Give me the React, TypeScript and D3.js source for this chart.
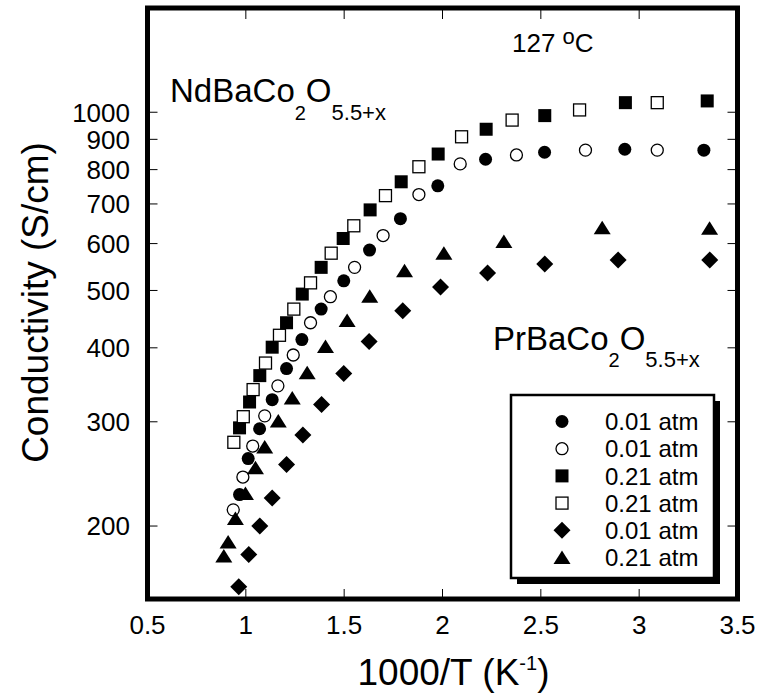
import React from 'react';
import * as d3 from 'd3';

// ---------- data (x = 1000/T in K^-1, y = conductivity in S/cm) ----------
const xTickValues = [0.5, 1, 1.5, 2, 2.5, 3, 3.5];
const xTickLabels = ['0.5', '1', '1.5', '2', '2.5', '3', '3.5'];
const yTickValues = [200, 300, 400, 500, 600, 700, 800, 900, 1000];
const yTickLabels = ['200', '300', '400', '500', '600', '700', '800', '900', '1000'];

// filled circles, 0.01 atm
const filledCircleX = [0.968, 1.012, 1.07, 1.134, 1.207, 1.285, 1.383, 1.498, 1.629, 1.786, 1.976, 2.219, 2.519, 2.927, 3.329];
const filledCircleY = [226, 260, 292, 327, 369, 413, 465, 519, 585, 661, 751, 833, 856, 866, 863];

// open circles, 0.01 atm
const openCircleX = [0.936, 0.985, 1.035, 1.096, 1.163, 1.241, 1.329, 1.43, 1.553, 1.698, 1.88, 2.09, 2.376, 2.727, 3.092];
const openCircleY = [213, 242, 273, 307, 345, 389, 441, 488, 547, 619, 726, 818, 847, 863, 863];

// filled squares, 0.21 atm
const filledSquareX = [0.968, 1.019, 1.071, 1.134, 1.207, 1.287, 1.383, 1.495, 1.632, 1.79, 1.978, 2.222, 2.52, 2.93, 3.346];
const filledSquareY = [293, 324, 359, 401, 441, 493, 547, 612, 684, 763, 850, 936, 987, 1038, 1045];

// open squares, 0.21 atm
const openSquareX = [0.939, 0.987, 1.037, 1.1, 1.171, 1.244, 1.329, 1.434, 1.549, 1.71, 1.88, 2.097, 2.354, 2.697, 3.092];
const openSquareY = [277, 306, 340, 377, 420, 465, 515, 578, 643, 723, 809, 909, 970, 1009, 1038];

// diamonds, 0.01 atm
const diamondX = [0.964, 1.015, 1.071, 1.134, 1.207, 1.29, 1.385, 1.498, 1.627, 1.798, 1.99, 2.229, 2.52, 2.893, 3.359];
const diamondY = [158, 179, 200, 223, 254, 285, 321, 362, 410, 462, 507, 535, 554, 563, 563];

// triangles, 0.21 atm
const triangleX = [0.888, 0.91, 0.947, 0.998, 1.049, 1.096, 1.165, 1.236, 1.312, 1.405, 1.515, 1.63, 1.807, 2.007, 2.312, 2.812, 3.358];
const triangleY = [178, 188, 206, 227, 251, 272, 301, 329, 363, 402, 445, 489, 540, 578, 605, 638, 637];

const legendShapes = ['filledCircle', 'openCircle', 'filledSquare', 'openSquare', 'diamond', 'triangle'];
const legendLabels = ['0.01 atm', '0.01 atm', '0.21 atm', '0.21 atm', '0.01 atm', '0.21 atm'];

const FONT = "'Liberation Sans', Arial, Helvetica, sans-serif";

function Marker({ shape, cx, cy }: { shape: string; cx: number; cy: number }) {
  switch (shape) {
    case 'filledCircle':
      return <circle cx={cx} cy={cy} r={6.5} fill="#000" />;
    case 'openCircle':
      return <circle cx={cx} cy={cy} r={6} fill="#fff" stroke="#000" strokeWidth={1.3} />;
    case 'filledSquare':
      return <rect x={cx - 6.5} y={cy - 6.5} width={13} height={13} fill="#000" />;
    case 'openSquare':
      return <rect x={cx - 6} y={cy - 6} width={12} height={12} fill="#fff" stroke="#000" strokeWidth={1.3} />;
    case 'diamond':
      return (
        <path d={`M${cx},${cy - 8.5}L${cx + 8.5},${cy}L${cx},${cy + 8.5}L${cx - 8.5},${cy}Z`} fill="#000" />
      );
    case 'triangle':
      return <path d={`M${cx},${cy - 7}L${cx + 8.5},${cy + 6.5}L${cx - 8.5},${cy + 6.5}Z`} fill="#000" />;
    default:
      return null;
  }
}

export default function App() {
  const W = 773;
  const H = 694;
  const left = 147.5;
  const right = 737.5;
  const top = 8;
  const bottom = 600;

  const x = d3.scaleLinear().domain([0.5, 3.5]).range([left, right]);
  const y = d3.scaleLog().domain([150, 1500]).range([bottom, top]);

  const series = [
    { shape: 'filledCircle', xs: filledCircleX, ys: filledCircleY },
    { shape: 'openCircle', xs: openCircleX, ys: openCircleY },
    { shape: 'filledSquare', xs: filledSquareX, ys: filledSquareY },
    { shape: 'openSquare', xs: openSquareX, ys: openSquareY },
    { shape: 'diamond', xs: diamondX, ys: diamondY },
    { shape: 'triangle', xs: triangleX, ys: triangleY },
  ];

  const innerX = xTickValues.filter((v) => v > 0.5 && v < 3.5);
  const tickLen = 11;

  const legX = 511;
  const legY = 395;
  const legW = 203;
  const legH = 183;
  const legRow0 = 421.5;
  const legStep = 27.2;

  return (
    <svg
      width={W}
      height={H}
      viewBox={`0 0 ${W} ${H}`}
      style={{ position: 'absolute', left: 0, top: 0, background: '#fff' }}
      fontFamily={FONT}
    >
      <rect x={0} y={0} width={W} height={H} fill="#fff" />

      {/* ticks */}
      {innerX.map((v) => (
        <g key={'xt' + v}>
          <line x1={x(v)} x2={x(v)} y1={bottom} y2={bottom - tickLen} stroke="#000" strokeWidth={1} />
          <line x1={x(v)} x2={x(v)} y1={top} y2={top + tickLen} stroke="#000" strokeWidth={1} />
        </g>
      ))}
      {yTickValues.map((v) => (
        <g key={'yt' + v}>
          <line x1={left} x2={left + 10} y1={y(v)} y2={y(v)} stroke="#000" strokeWidth={1} />
          <line x1={right} x2={right - 10} y1={y(v)} y2={y(v)} stroke="#000" strokeWidth={1} />
        </g>
      ))}

      {/* tick labels */}
      {xTickValues.map((v, i) => (
        <text key={'xl' + v} x={x(v)} y={634} fontSize={26} textAnchor="middle" fill="#000">
          {xTickLabels[i]}
        </text>
      ))}
      {yTickValues.map((v, i) => (
        <text key={'yl' + v} x={130} y={y(v) + 9.3} fontSize={26} textAnchor="end" fill="#000">
          {yTickLabels[i]}
        </text>
      ))}

      {/* axis titles */}
      <text x={453.5} y={685} fontSize={37} textAnchor="middle" fill="#000">
        1000/T (K<tspan fontSize={20} dy={-15}>-1</tspan>
        <tspan dy={15}>)</tspan>
      </text>
      <text
        transform={`translate(48,302.5) rotate(-90)`}
        fontSize={37}
        textAnchor="middle"
        fill="#000"
      >
        Conductivity (S/cm)
      </text>

      {/* data */}
      {series.map((s) =>
        s.xs.map((xv, i) => (
          <Marker key={s.shape + i} shape={s.shape} cx={x(xv)} cy={y(s.ys[i])} />
        ))
      )}

      {/* annotations */}
      <text x={512} y={52} fontSize={26} fill="#000">
        127 <tspan fontSize={22} y={44}>o</tspan>
        <tspan y={52}>C</tspan>
      </text>
      <text x={170} y={102} fontSize={33} fill="#000">
        NdBaCo<tspan fontSize={20} y={120}>2</tspan>
        <tspan y={102}>O</tspan>
        <tspan fontSize={22} y={120}>5.5+x</tspan>
      </text>
      <text x={493} y={350} fontSize={33} fill="#000">
        PrBaCo<tspan fontSize={20} y={367}>2</tspan>
        <tspan y={350}>O</tspan>
        <tspan fontSize={22} y={367}>5.5+x</tspan>
      </text>

      {/* legend */}
      <rect x={legX + 6} y={legY + 6} width={legW} height={legH} fill="#000" />
      <rect x={legX} y={legY} width={legW} height={legH} fill="#fff" stroke="#000" strokeWidth={2.5} />
      {legendShapes.map((s, i) => (
        <g key={'leg' + i}>
          <Marker shape={s} cx={562} cy={legRow0 + i * legStep} />
          <text x={605} y={legRow0 + i * legStep + 8.6} fontSize={24} fill="#000">
            {legendLabels[i]}
          </text>
        </g>
      ))}

      {/* frame */}
      <rect x={left} y={top} width={right - left} height={599 - top} fill="none" stroke="#000" strokeWidth={5} />
    </svg>
  );
}
